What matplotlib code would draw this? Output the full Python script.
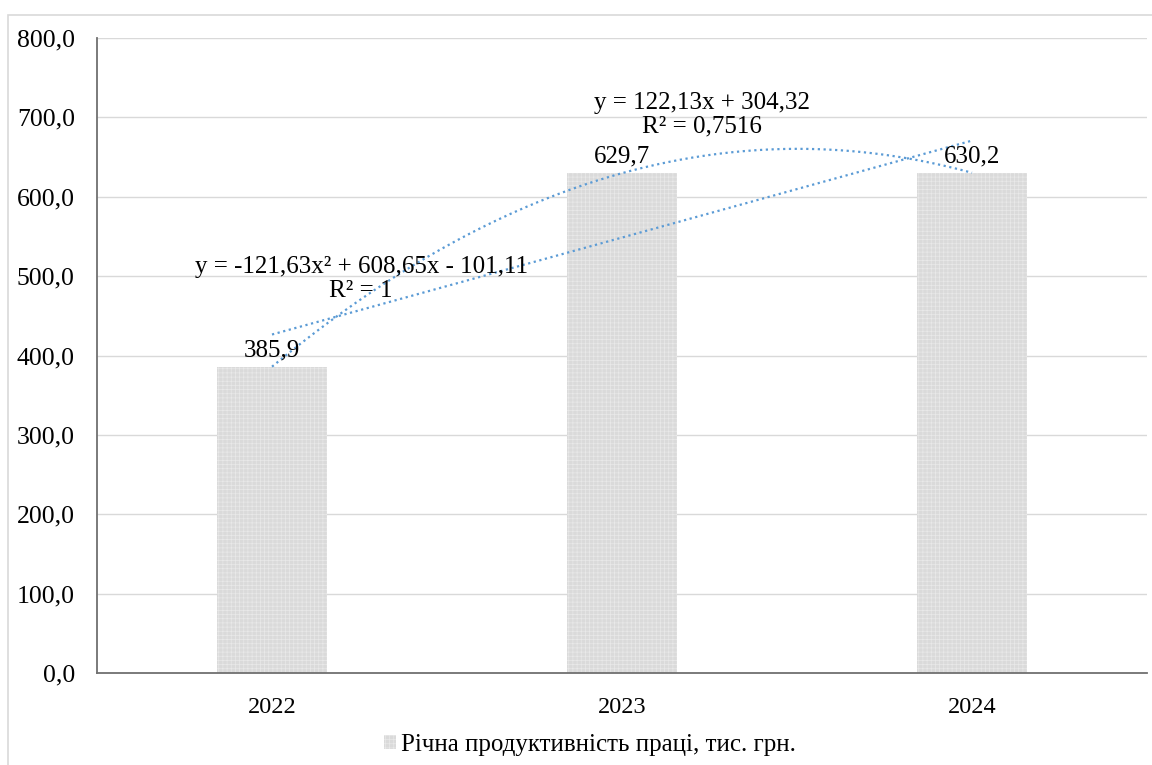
import numpy as np
import matplotlib
matplotlib.use("Agg")
import matplotlib.pyplot as plt
from matplotlib.patches import Rectangle

plt.rcParams['font.family'] = ['Liberation Serif', 'DejaVu Serif']
plt.rcParams['hatch.linewidth'] = 0.5

years = ["2022", "2023", "2024"]
values = [385.9, 629.7, 630.2]
value_labels = ["385,9", "629,7", "630,2"]
yticks = [0, 100, 200, 300, 400, 500, 600, 700, 800]
ytick_labels = ["0,0", "100,0", "200,0", "300,0", "400,0", "500,0", "600,0", "700,0", "800,0"]
legend_label = "Річна продуктивність праці, тис. грн."
lin_eq = "y = 122,13x + 304,32\nR² = 0,7516"
poly_eq = "y = -121,63x² + 608,65x - 101,11\nR² = 1"

bar_color = "#dadada"
trend_color = "#5b9bd5"

def main():
	fig = plt.figure(figsize=(11.52, 7.65), dpi=100)
	ax = fig.add_axes([97/1152, 92/765, 1050/1152, 635/765])

	x = np.arange(1, len(values) + 1)
	ax.bar(x, values, width=0.314, color=bar_color, edgecolor="#e9e9e9", hatch="++++",
		lw=0, label=legend_label, zorder=2)

	# trendlines like excel does them
	xs = np.linspace(x[0], x[-1], 200)
	lin = np.polyfit(x, values, 1)
	poly = np.polyfit(x, values, 2)
	ax.plot(xs, np.polyval(lin, xs), color=trend_color, ls=(0, (1, 1.6)), lw=1.6, zorder=3)
	ax.plot(xs, np.polyval(poly, xs), color=trend_color, ls=(0, (1, 1.6)), lw=1.6, zorder=3)

	for xi, v, lab in zip(x, values, value_labels):
		ax.text(xi, v + 7, lab, ha="center", va="bottom", fontsize=18, zorder=4)

	ax.text(1.255, 468, poly_eq, ha="center", va="bottom", fontsize=18, linespacing=1.1, zorder=4)
	ax.text(2.229, 675, lin_eq, ha="center", va="bottom", fontsize=18, linespacing=1.1, zorder=4)

	ax.set_xlim(0.5, 3.5)
	ax.set_ylim(0, 800)
	ax.set_xticks(x)
	ax.set_xticklabels(years, fontsize=17.5)
	ax.set_yticks(yticks)
	ax.set_yticklabels(ytick_labels, fontsize=18.5)
	ax.tick_params(length=0, pad=16)
	ax.tick_params(axis="x", pad=17)
	ax.grid(axis="y", color="#d9d9d9", lw=1, zorder=0)
	ax.set_axisbelow(True)
	for s in ["top", "right"]:
		ax.spines[s].set_visible(False)
	ax.spines["left"].set_color("#707070")
	ax.spines["bottom"].set_color("#707070")
	ax.spines["left"].set_linewidth(1.3)
	ax.spines["bottom"].set_linewidth(1.3)

	fig.legend(loc="center", bbox_to_anchor=(590/1152, 1 - 745/765), frameon=False,
		fontsize=18, handlelength=0.5, handleheight=0.5, handletextpad=0.2)

	fig.patches.append(Rectangle((8/1152, -0.1), 1.2, 1 - 15/765 + 0.1, transform=fig.transFigure,
		fill=False, edgecolor="#d9d9d9", lw=1.2))

	fig.savefig("out.png", dpi=100)

if __name__ == "__main__":
	main()
